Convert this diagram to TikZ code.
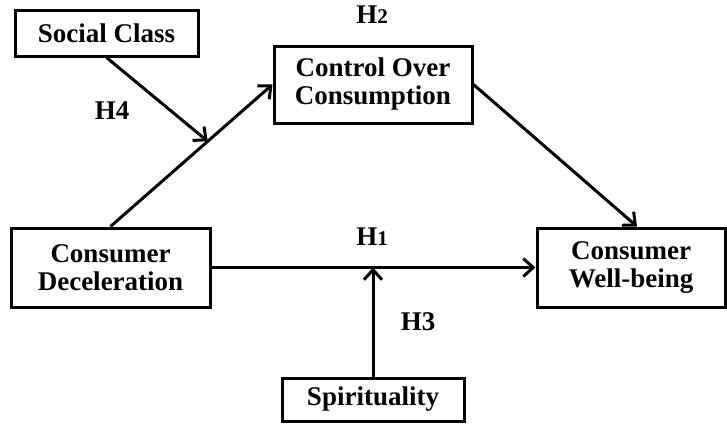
\documentclass[tikz,border=0pt]{standalone}
\usepackage{fontspec}
\setmainfont{Liberation Serif}
\usetikzlibrary{arrows.meta,calc}
\begin{document}
\begin{tikzpicture}[x=0.5pt,y=-0.5pt,
  box/.style={draw,line width=1.5pt,inner sep=0pt,align=center,
    font=\fontsize{13.5}{14}\selectfont\bfseries},
  hlabel/.style={inner sep=0pt,font=\fontsize{13.5}{14}\selectfont\bfseries},
  conn/.style={line width=1.5pt,-{Straight Barb[length=5pt,width=9pt,line width=1.5pt]}}]
\useasboundingbox (0,0) rectangle (727,424);
\node[box,minimum width=91.5pt,minimum height=23pt] (social) at (106.5,33) {Social Class};
\node[box,minimum width=99pt,minimum height=38.5pt] (coc) at (373,84.5) {Control Over\\Consumption};
\node[box,minimum width=99.5pt,minimum height=39.5pt] (cd) at (110.5,267.5) {Consumer\\Deceleration};
\node[box,minimum width=94pt,minimum height=39.5pt] (cw) at (631,267.5) {Consumer\\Well-being};
\node[box,minimum width=91pt,minimum height=21.5pt] (spirit) at (373,399.5) {Spirituality};
\node[hlabel] (h2) at (372,15) {H{\fontsize{10.5}{10}\selectfont 2}};
\node[hlabel] (h4) at (112,111) {H4};
\node[hlabel] (h1) at (372,237) {H{\fontsize{10.5}{10}\selectfont 1}};
\node[hlabel] (h3) at (418,322) {H3};
\coordinate (m) at ($(cd.north)!0.6!(coc.west)$);
\draw[conn] (cd.north) -- (coc.west);
\draw[conn] (social.south) -- (m);
\draw[conn] (cd.east) -- (cw.west);
\draw[conn] (coc.east) -- ([xshift=3pt]cw.north);
\draw[conn] (spirit.north) -- (spirit.north |- cd.east);
\end{tikzpicture}
\end{document}
